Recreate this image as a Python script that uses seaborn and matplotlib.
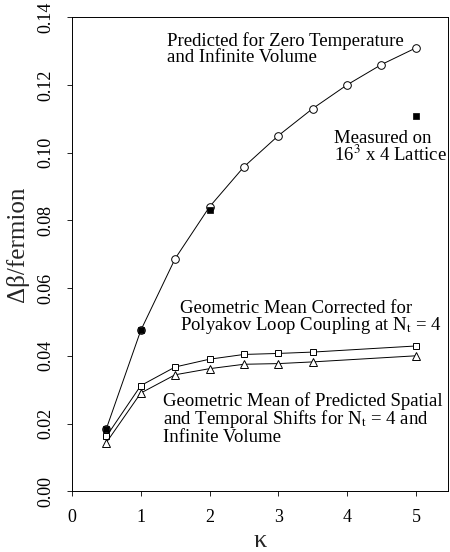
import numpy as np
import pandas as pd
import matplotlib
matplotlib.use("Agg")
import matplotlib.pyplot as plt
import seaborn as sns

# kappa values and the three predicted curves
kappa_zero_t = [0.5, 1.0, 1.5, 2.0, 2.5, 3.0, 3.5, 4.0, 4.5, 5.0]
shift_zero_t = [0.0185, 0.0475, 0.0687, 0.0840, 0.0958, 0.1050, 0.1130, 0.1200, 0.1260, 0.1309]

kappa_geo = [0.5, 1.0, 1.5, 2.0, 2.5, 3.0, 3.5, 5.0]
shift_corrected = [0.0162, 0.0312, 0.0367, 0.0390, 0.0404, 0.0407, 0.0411, 0.0429]
shift_geo_mean = [0.0144, 0.0290, 0.0344, 0.0362, 0.0375, 0.0377, 0.0382, 0.0400]

# measured on 16^3 x 4 lattice
kappa_measured = [0.5, 1.0, 2.0, 5.0]
shift_measured = [0.0185, 0.0475, 0.0830, 0.1107]

x_ticks = [0, 1, 2, 3, 4, 5]
y_ticks = [0.00, 0.02, 0.04, 0.06, 0.08, 0.10, 0.12, 0.14]

sns.set_style("ticks")
plt.rcParams['font.family'] = ['Liberation Serif', 'DejaVu Serif']
plt.rcParams['mathtext.fontset'] = 'stix'

fig, ax = plt.subplots(figsize=(4.5, 5.52), dpi=100)
fig.subplots_adjust(left=0.16, right=0.996, top=0.969, bottom=0.11)

line_kw = dict(color='black', linewidth=0.7, markeredgecolor='black',
               markerfacecolor='white', markeredgewidth=0.7)

sns.lineplot(x=kappa_zero_t, y=shift_zero_t, ax=ax, marker='o', markersize=5.5, **line_kw)
sns.lineplot(x=kappa_geo, y=shift_corrected, ax=ax, marker='s', markersize=5, **line_kw)
sns.lineplot(x=kappa_geo, y=shift_geo_mean, ax=ax, marker='^', markersize=5.5, **line_kw)
sns.scatterplot(x=kappa_measured, y=shift_measured, ax=ax, marker='s', s=24,
                color='black', edgecolor='black', linewidth=0.5, zorder=5)

ax.set_xlim(0, 5.47)
ax.set_ylim(0, 0.14)
ax.set_xticks(x_ticks)
ax.set_xticklabels([str(t) for t in x_ticks])
ax.set_yticks(y_ticks)
ax.set_yticklabels([f"{t:.2f}" for t in y_ticks], rotation=90, va='center')
ax.tick_params(axis='both', direction='out', length=3.5, width=0.6, labelsize=13, colors='black')
ax.tick_params(axis='y', pad=9)
ax.tick_params(axis='x', pad=9)

for spine in ax.spines.values():
    spine.set_visible(True)
    spine.set_linewidth(0.7)
    spine.set_color('black')

ax.set_xlabel("κ", fontsize=19, labelpad=3)
ax.set_ylabel("Δβ/fermion", fontsize=18, labelpad=5)
ax.yaxis.set_label_coords(-0.115, 0.52)

txt = dict(fontsize=13.5, va='top', ha='left', linespacing=0.88, color='black')
ax.text(1.38, 0.1355, "Predicted for Zero Temperature\nand Infinite Volume", **txt)
ax.text(3.81, 0.1068, "Measured on\n16$^3$ x 4 Lattice", **txt)
ax.text(1.57, 0.0566, "Geometric Mean Corrected for\nPolyakov Loop Coupling at N$_\\mathrm{t}$ = 4", **txt)
ax.text(1.33, 0.0292, "Geometric Mean of Predicted Spatial\nand Temporal Shifts for N$_\\mathrm{t}$ = 4 and\nInfinite Volume", **txt)

fig.savefig("out.png", dpi=100)
